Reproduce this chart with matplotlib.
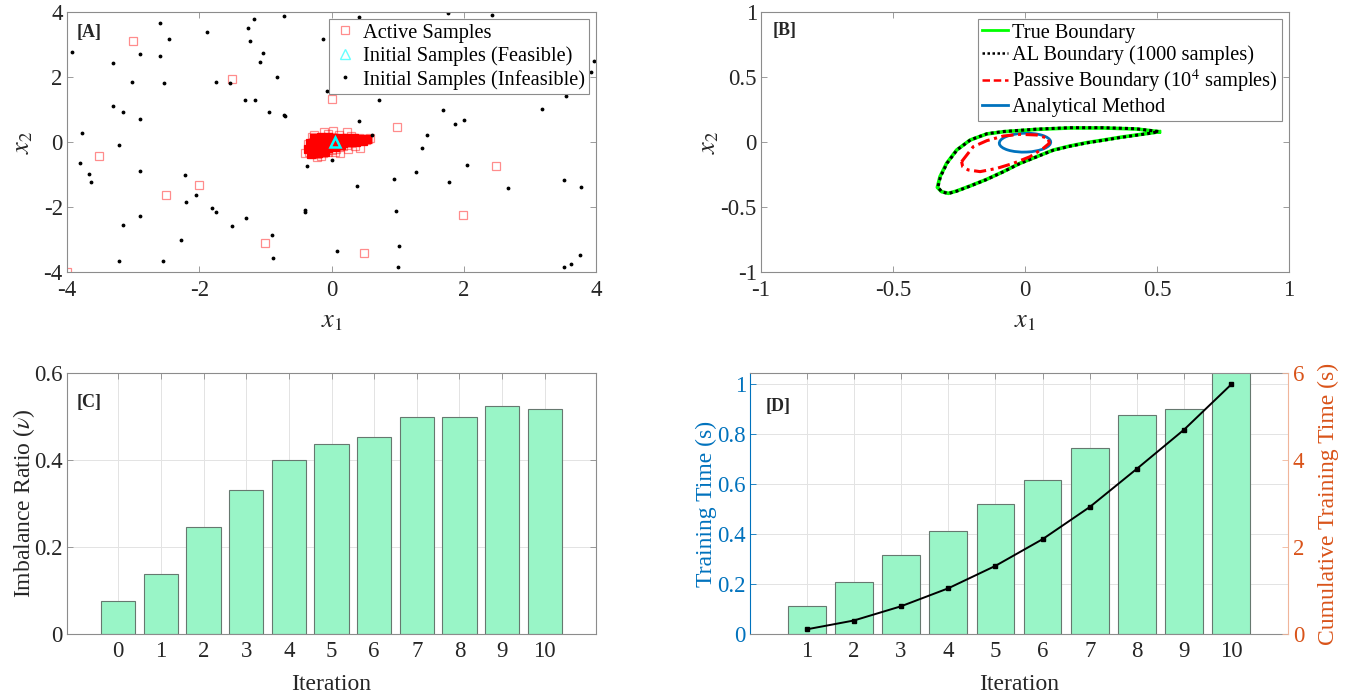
import numpy as np
import matplotlib
matplotlib.use("Agg")
import matplotlib.pyplot as plt
from matplotlib.patches import Ellipse
from matplotlib.lines import Line2D

plt.rcParams["font.family"] = ["Liberation Serif", "DejaVu Serif"]
plt.rcParams["mathtext.fontset"] = "stix"
plt.rcParams["axes.unicode_minus"] = False

W, H = 1358, 696

# ---- panel A: samples ----
infeas_x = [-3.92, -2.59, -2.46, -2.90, -3.30, -3.01, -2.59, -2.53, -3.30, -3.15, -2.90, -3.77,
            -3.21, -3.80, -3.66, -3.63, -2.90, -2.21, -2.05, -2.20, -1.81, -1.75, -2.90, -3.15,
            -2.27, -3.21, -2.55, -1.89, -1.26, -1.17, -0.72, -1.23, -1.04, -1.08, -1.75, -1.54,
            -0.82, -1.31, -1.15, -0.94, -0.72, -0.13, -0.07, 0.41, 0.42, 0.72, 0.61, -0.37,
            0.01, 0.39, -0.40, -0.40, -1.30, -1.51, -0.90, -0.88, 0.09, 0.95, 0.98, 1.02,
            1.01, 1.28, 1.37, 1.44, 1.68, 1.87, 2.00, 1.78, 2.05, 2.67, 3.19, 3.55,
            3.52, 3.77, 3.76, 3.62, 3.51, 1.76, 2.42, 3.97, 3.92, 2.26, -0.70]
infeas_y = [2.76, 3.66, 3.17, 2.70, 2.43, 1.85, 2.65, 1.81, 1.12, 0.93, 0.71, 0.28,
            -0.09, -0.64, -0.97, -1.22, -0.89, -1.02, -1.64, -1.86, -2.02, -2.16, -2.27, -2.55,
            -3.01, -3.66, -3.66, 3.39, 3.50, 3.78, 3.89, 3.10, 2.74, 2.46, 1.85, 1.82,
            2.00, 1.30, 1.30, 0.93, 0.82, 3.17, 1.56, 3.85, 0.66, 1.28, 0.22, -0.73,
            -0.55, -1.36, -2.08, -2.16, -2.34, -2.57, -2.87, -3.57, -3.34, -1.13, -2.11, -3.20,
            -3.85, -0.93, -0.18, 0.22, 0.99, 0.56, 0.67, -1.23, -0.70, -1.43, 1.02, 1.41,
            -1.17, -1.38, -3.48, -3.76, -3.86, 3.97, 3.90, 2.50, 2.14, 1.53, 0.81]

active_far_x = [-3.00, -1.50, 0.00, 0.99, -3.51, -2.01, -2.50, 2.49, 1.99, -1.00, 0.49, -4.00]
active_far_y = [3.12, 1.93, 1.33, 0.45, -0.44, -1.33, -1.64, -0.75, -2.24, -3.12, -3.43, -4.00]

active_near_x = [-0.34, -0.33, -0.31, -0.30, -0.28, -0.27, -0.25, -0.24, -0.22, -0.21, -0.20, -0.18,
                 -0.17, -0.15, -0.14, -0.13, -0.12, -0.10, -0.09, -0.08, -0.06, -0.05, -0.04, -0.02,
                 0.00, 0.01, 0.02, 0.04, 0.06, 0.07, 0.09, 0.11, 0.12, 0.14, 0.16, 0.18,
                 0.20, 0.22, 0.24, 0.26, 0.28, 0.30, 0.32, 0.34, 0.36, 0.38, 0.41, 0.43,
                 0.46, 0.49, 0.52, 0.55, -0.30, -0.12, 0.03, 0.23, -0.40, -0.22, 0.13, 0.43,
                 0.58, -0.26, -0.05, 0.12, 0.30, 0.05, 0.25, -0.35, -0.16, 0.36]
active_near_y = [-0.30, -0.20, -0.10, -0.36, 0.00, -0.25, -0.15, 0.08, -0.38, -0.05, 0.12, -0.30,
                 -0.20, 0.02, 0.14, -0.33, -0.10, 0.09, -0.25, -0.02, 0.15, -0.30, -0.15, 0.06,
                 0.14, -0.24, -0.08, 0.02, 0.13, -0.20, -0.05, 0.10, -0.16, 0.01, 0.13, -0.12,
                 0.04, 0.12, -0.08, 0.06, 0.13, -0.04, 0.08, 0.12, -0.01, 0.09, 0.11, 0.02,
                 0.08, 0.10, 0.05, 0.08, 0.16, 0.30, 0.33, 0.30, -0.35, -0.45, -0.35, -0.19,
                 0.11, 0.22, 0.24, 0.22, 0.20, -0.30, -0.20, -0.05, -0.42, -0.12]

# densest part of the active-sample cloud (overlapping squares look solid red)
active_core_x = [-0.26, -0.16, -0.06, 0.04, 0.14, 0.24, 0.34, 0.44, 0.53,
                 -0.33, -0.23, -0.13, -0.03, 0.07, 0.17, 0.27, 0.37, 0.47,
                 -0.35, -0.25, -0.15, -0.05, 0.05, 0.15,
                 -0.31, -0.21, -0.10]
active_core_y = [0.12, 0.14, 0.14, 0.13, 0.13, 0.12, 0.11, 0.10, 0.08,
                 -0.04, -0.03, -0.04, -0.05, -0.04, -0.02, 0.00, 0.01, 0.04,
                 -0.22, -0.21, -0.20, -0.18, -0.15, -0.10,
                 -0.36, -0.35, -0.30]

feas_x = [0.06]
feas_y = [0.00]

# ---- panel B: boundaries ----
true_x = [0.509, 0.423, 0.297, 0.170, 0.044, -0.082, -0.145, -0.208, -0.259, -0.297, -0.322, -0.332,
          -0.316, -0.290, -0.259, -0.208, -0.145, -0.082, -0.019, 0.044, 0.107, 0.170, 0.234, 0.297,
          0.360, 0.423, 0.486, 0.509]
true_y = [0.079, 0.100, 0.108, 0.108, 0.097, 0.079, 0.062, 0.015, -0.062, -0.164, -0.267, -0.349,
          -0.382, -0.395, -0.377, -0.338, -0.287, -0.228, -0.164, -0.113, -0.062, -0.031, -0.005, 0.015,
          0.036, 0.054, 0.072, 0.079]
al_x = [0.505, 0.420, 0.295, 0.170, 0.045, -0.080, -0.143, -0.206, -0.257, -0.295, -0.320, -0.330,
        -0.315, -0.290, -0.260, -0.209, -0.146, -0.083, -0.020, 0.043, 0.106, 0.169, 0.233, 0.296,
        0.359, 0.422, 0.484, 0.505]
al_y = [0.081, 0.102, 0.110, 0.110, 0.099, 0.081, 0.064, 0.017, -0.060, -0.162, -0.266, -0.348,
        -0.384, -0.396, -0.379, -0.340, -0.289, -0.230, -0.166, -0.115, -0.064, -0.033, -0.007, 0.013,
        0.034, 0.052, 0.070, 0.081]
passive_x = [-0.240, -0.196, -0.145, -0.082, -0.019, 0.044, 0.088, 0.092, 0.069, 0.019, -0.044, -0.107,
             -0.170, -0.215, -0.236, -0.240]
passive_y = [-0.151, -0.036, 0.010, 0.046, 0.059, 0.054, 0.028, -0.010, -0.049, -0.113, -0.164, -0.203,
             -0.228, -0.215, -0.190, -0.151]
analytic_center = (0.0, -0.005)
analytic_w, analytic_h, analytic_angle = 0.195, 0.145, 5

# ---- panel C / D ----
iters_c = [0, 1, 2, 3, 4, 5, 6, 7, 8, 9, 10]
imbalance = [0.076, 0.137, 0.245, 0.330, 0.399, 0.436, 0.454, 0.498, 0.500, 0.523, 0.517]

iters_d = [1, 2, 3, 4, 5, 6, 7, 8, 9, 10]
train_time = [0.112, 0.209, 0.317, 0.413, 0.519, 0.615, 0.745, 0.877, 0.901, 1.05]
cum_time = [0.107, 0.31, 0.637, 1.05, 1.566, 2.18, 2.92, 3.80, 4.70, 5.74]

BAR_FC = "#99f5c7"
BAR_EC = "#66786f"
BLUE = "#0072BD"
ORANGE = "#D95319"
TXT = "#262626"
SPINE = "#8c8c8c"
TICK_FS = 16.5
LAB_FS = 17
LEG_FS = 14.7
TAG_FS = 13


def px_axes(fig, l, r, t, b):
    return fig.add_axes([l / W, (H - b) / H, (r - l) / W, (b - t) / H])


def style(ax, grid=False, xpad=5):
    for s in ax.spines.values():
        s.set_color(SPINE)
        s.set_linewidth(0.8)
    ax.tick_params(direction="in", length=4, width=0.6, colors=SPINE,
                   labelcolor=TXT, labelsize=TICK_FS, top=True, right=True, pad=3)
    ax.tick_params(axis="x", pad=xpad)
    if grid:
        ax.grid(True, color="#e3e3e3", lw=0.7)
        ax.set_axisbelow(True)


def tag(ax, s, dx, dy):
    # dx, dy in pixels from the axes' upper-left corner
    bb = ax.get_position()
    ax.text(dx / (bb.width * W), 1 - dy / (bb.height * H), s, transform=ax.transAxes,
            fontsize=TAG_FS, fontweight="bold", color=TXT, ha="left", va="center")


fig = plt.figure(figsize=(W / 100, H / 100), dpi=100)

# A
axA = px_axes(fig, 67, 596, 12, 272)
axA.plot(active_core_x, active_core_y, "s", ls="none", mfc="red", mec="red", mew=0.9, ms=6)
axA.plot(active_far_x + active_near_x, active_far_y + active_near_y, "s", ls="none",
         mfc="none", mec="red", mew=0.9, ms=6, alpha=0.45)
axA.plot(feas_x, feas_y, "^", ls="none", mfc="none", mec="cyan", mew=1.8, ms=7)
axA.plot(infeas_x, infeas_y, ".", ls="none", color="black", ms=3.5)
axA.set_xlim(-4, 4)
axA.set_ylim(-4, 4)
axA.set_xticks([-4, -2, 0, 2, 4])
axA.set_yticks([-4, -2, 0, 2, 4])
style(axA, xpad=6)
axA.set_xlabel("$x_1$", fontsize=19, color=TXT, labelpad=7)
axA.set_ylabel("$x_2$", fontsize=19, color=TXT, labelpad=6)
hA = [Line2D([], [], marker="s", ls="none", mfc="none", mec="red", alpha=0.45, ms=6, mew=0.9),
      Line2D([], [], marker="^", ls="none", mfc="none", mec="cyan", ms=7, mew=1.0, alpha=0.6),
      Line2D([], [], marker=".", ls="none", color="black", ms=3.5)]
legA = axA.legend(hA, ["Active Samples", "Initial Samples (Feasible)", "Initial Samples (Infeasible)"],
                  loc="upper right", fontsize=LEG_FS, frameon=True, fancybox=False, edgecolor=SPINE,
                  handlelength=1.2, handletextpad=0.25, borderpad=0.2, labelspacing=0.18,
                  borderaxespad=0.35, framealpha=1)
legA.get_frame().set_linewidth(0.8)
tag(axA, "[A]", 10, 20)

# B
axB = px_axes(fig, 761, 1289, 12, 272)
axB.plot(true_x, true_y, color="#00ff00", lw=2.6)
axB.plot(al_x, al_y, color="black", lw=2.2, ls=(0, (1, 1)))
axB.plot(passive_x, passive_y, color="red", lw=2.2, ls=(0, (4, 1.5, 1, 1.5)))
axB.add_patch(Ellipse(analytic_center, analytic_w, analytic_h, angle=analytic_angle,
                      fill=False, edgecolor=BLUE, lw=2.0))
axB.set_xlim(-1, 1)
axB.set_ylim(-1, 1)
axB.set_xticks([-1, -0.5, 0, 0.5, 1])
axB.set_yticks([-1, -0.5, 0, 0.5, 1])
axB.set_xticklabels(["-1", "-0.5", "0", "0.5", "1"])
axB.set_yticklabels(["-1", "-0.5", "0", "0.5", "1"])
style(axB, xpad=6)
axB.set_xlabel("$x_1$", fontsize=19, color=TXT, labelpad=7)
axB.set_ylabel("$x_2$", fontsize=19, color=TXT, labelpad=0)
hB = [Line2D([], [], color="#00ff00", lw=2),
      Line2D([], [], color="black", lw=1.8, ls=(0, (1, 1))),
      Line2D([], [], color="red", lw=1.8, ls=(0, (3, 1.5))),
      Line2D([], [], color=BLUE, lw=2)]
legB = axB.legend(hB, ["True Boundary", "AL Boundary (1000 samples)",
                       "Passive Boundary (10$^4$ samples)", "Analytical Method"],
                  loc="upper right", fontsize=LEG_FS, frameon=True, fancybox=False, edgecolor=SPINE,
                  handlelength=1.25, handletextpad=0.2, borderpad=0.2, labelspacing=0.14,
                  borderaxespad=0.35, framealpha=1)
legB.get_frame().set_linewidth(0.8)
tag(axB, "[B]", 12, 19)

# C
axC = px_axes(fig, 67, 596, 373, 634)
axC.bar(iters_c, imbalance, width=0.8, color=BAR_FC, edgecolor=BAR_EC, linewidth=0.8)
axC.set_xlim(-1.2, 11.2)
axC.set_ylim(0, 0.6)
axC.set_xticks(iters_c)
axC.set_yticks([0, 0.2, 0.4, 0.6])
axC.set_yticklabels(["0", "0.2", "0.4", "0.6"])
style(axC, grid=True)
axC.set_xlabel("Iteration", fontsize=LAB_FS, color=TXT, labelpad=9)
axC.set_ylabel(r"Imbalance Ratio ($\nu$)", fontsize=LAB_FS, color=TXT, labelpad=-2)
tag(axC, "[C]", 10, 29)

# D
axD = px_axes(fig, 750, 1288, 373, 634)
axD.bar(iters_d, train_time, width=0.8, color=BAR_FC, edgecolor=BAR_EC, linewidth=0.8)
axD.set_xlim(-0.2, 11.2)
axD.set_ylim(0, 1.044)
axD.set_xticks(iters_d)
axD.set_yticks([0, 0.2, 0.4, 0.6, 0.8, 1])
axD.set_yticklabels(["0", "0.2", "0.4", "0.6", "0.8", "1"])
style(axD, grid=True)
axD.tick_params(axis="y", right=False, colors=BLUE, labelcolor=BLUE)
axD.spines["left"].set_color(BLUE)
axD.spines["right"].set_visible(False)
axD.set_xlabel("Iteration", fontsize=LAB_FS, color=TXT, labelpad=9)
axD.set_ylabel("Training Time (s)", fontsize=LAB_FS, color=BLUE, labelpad=0)
tag(axD, "[D]", 16, 34)

axD2 = axD.twinx()
axD2.plot(iters_d, cum_time, color="black", lw=1.4, marker="s", ms=3.5, mfc="black", mec="black")
axD2.set_ylim(0, 6)
axD2.set_yticks([0, 2, 4, 6])
for s in axD2.spines.values():
    s.set_visible(False)
axD2.spines["right"].set_visible(True)
axD2.spines["right"].set_color("#f0b59a")
axD2.spines["right"].set_linewidth(0.8)
axD2.tick_params(axis="y", direction="in", length=4, width=0.6, colors="#f0b59a",
                 labelcolor=ORANGE, labelsize=TICK_FS)
axD2.set_ylabel("Cumulative Training Time (s)", fontsize=LAB_FS, color=ORANGE, labelpad=10)

fig.savefig("out.png", dpi=100)
